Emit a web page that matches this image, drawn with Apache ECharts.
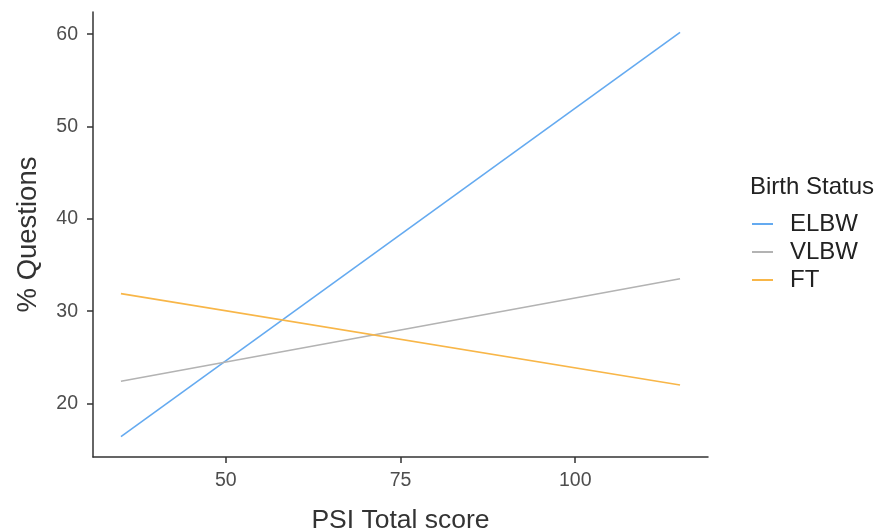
<!DOCTYPE html>
<html>
<head>
<meta charset="utf-8">
<script src="https://cdn.jsdelivr.net/npm/echarts@6/dist/echarts.min.js"></script>
<style>html,body{margin:0;padding:0;background:#fff}#c{width:886px;height:531px}</style>
</head>
<body>
<div id="c"></div>
<script>
const seriesNames = ['ELBW', 'VLBW', 'FT'];
const psiScores = [35, 115];
const elbwValues = [16.4, 60.2];
const vlbwValues = [22.4, 33.5];
const ftValues = [31.9, 22.0];
const xTicks = [50, 75, 100];
const yTicks = [20, 30, 40, 50, 60];
const colors = ['#64aaf0', '#b3b3b3', '#f8b648'];

const valuesBySeries = [elbwValues, vlbwValues, ftValues];
const FONT = 'Liberation Sans, Arial, sans-serif';
const chart = echarts.init(document.getElementById('c'));
const axisCommon = {
  type: 'value',
  axisLine: { show: true, lineStyle: { color: '#333', width: 1.5 } },
  axisTick: { show: true, length: 6, lineStyle: { color: '#333', width: 1.5 } },
  splitLine: { show: false },
  axisLabel: { color: '#4d4d4d', fontSize: 19.5, fontFamily: FONT },
  nameTextStyle: { color: '#333', fontSize: 26.5, fontFamily: FONT }
};
chart.setOption({
  animation: false,
  title: {
    text: 'Birth Status', left: 745, top: 170,
    textStyle: { color: '#222', fontSize: 24, fontWeight: 'normal', fontFamily: FONT }
  },
  legend: {
    data: seriesNames, orient: 'vertical', left: 747, top: 207,
    icon: 'rect', itemWidth: 21, itemHeight: 2, itemGap: 4,
    textStyle: { color: '#222', fontSize: 24, fontFamily: FONT, padding: [0, 0, 0, 12] }
  },
  grid: { left: 93, right: 178, top: 12, bottom: 74, containLabel: false, outerBoundsMode: 'none' },
  xAxis: Object.assign({}, axisCommon, {
    min: 31, max: 119,
    name: 'PSI Total score', nameLocation: 'middle', nameGap: 50,
    axisTick: Object.assign({}, axisCommon.axisTick, { customValues: xTicks }),
    axisLabel: Object.assign({}, axisCommon.axisLabel, { customValues: xTicks, margin: 14 })
  }),
  yAxis: Object.assign({}, axisCommon, {
    min: 14.2, max: 62.4,
    name: '% Questions', nameLocation: 'middle', nameGap: 51,
    nameTextStyle: { color: '#333', fontSize: 27.5, fontFamily: FONT },
    axisTick: Object.assign({}, axisCommon.axisTick, { customValues: yTicks }),
    axisLabel: Object.assign({}, axisCommon.axisLabel, { customValues: yTicks, margin: 15 })
  }),
  series: seriesNames.map((n, i) => ({
    name: n, type: 'line', showSymbol: false, symbol: 'none',
    lineStyle: { color: colors[i], width: 1.6 }, itemStyle: { color: colors[i] },
    data: psiScores.map((x, j) => [x, valuesBySeries[i][j]])
  }))
});
</script>
</body>
</html>
